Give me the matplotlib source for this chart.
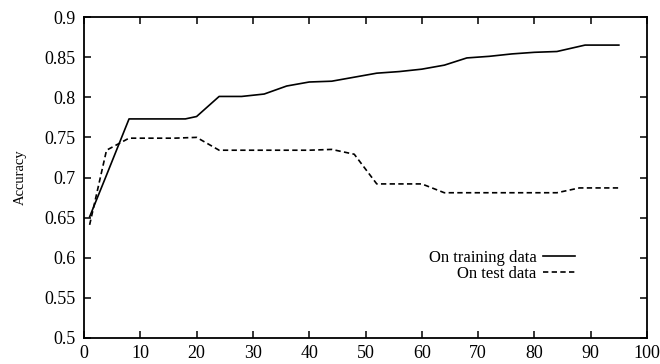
import numpy as np
import matplotlib.pyplot as plt

plt.rcParams['font.family'] = 'Liberation Serif'

# training curve
train_x = [1, 4, 8, 12, 16, 18, 20, 24, 28, 32, 36, 40, 44, 48, 52, 56, 60, 64, 68, 72, 76, 80, 84, 89, 95]
train_y = [0.651, 0.703, 0.773, 0.773, 0.773, 0.773, 0.776, 0.801, 0.801, 0.804, 0.814, 0.819, 0.820,
           0.825, 0.830, 0.832, 0.835, 0.840, 0.849, 0.851, 0.854, 0.856, 0.857, 0.865, 0.865]

# test curve
test_x = [1, 4, 8, 12, 16, 20, 24, 28, 32, 36, 40, 44, 48, 52, 56, 60, 64, 68, 72, 76, 80, 84, 88, 95]
test_y = [0.641, 0.734, 0.749, 0.749, 0.749, 0.750, 0.734, 0.734, 0.734, 0.734, 0.734, 0.735, 0.729,
          0.692, 0.692, 0.692, 0.681, 0.681, 0.681, 0.681, 0.681, 0.681, 0.687, 0.687]

xticks = np.arange(0, 101, 10)
yticks = [0.5, 0.55, 0.6, 0.65, 0.7, 0.75, 0.8, 0.85, 0.9]

fig = plt.figure(figsize=(6.6, 3.64), dpi=100)
ax = fig.add_axes([84/660, 26/364, 563/660, 321/364])

ax.plot(train_x, train_y, color='black', lw=1.2, label='On training data')
ax.plot(test_x, test_y, color='black', lw=1.2, dashes=(3.2, 2.0), label='On test data')

ax.set_xlim(0, 100)
ax.set_ylim(0.5, 0.9)
ax.set_xticks(xticks)
ax.set_yticks(yticks)
ax.set_yticklabels([('%g' % v) for v in yticks])
ax.tick_params(direction='in', length=5, width=1.1, top=True, right=True, labelsize=13)
ax.tick_params(axis='y', pad=6)
ax.tick_params(axis='x', pad=5)
for s in ax.spines.values():
    s.set_linewidth(1.3)

ax.set_ylabel('Accuracy', fontsize=10.5, labelpad=13)

ax.legend(loc='center right', bbox_to_anchor=(575/660, 1 - 265.5/364), bbox_transform=fig.transFigure,
          frameon=False, markerfirst=False, fontsize=12, handlelength=1.9, handletextpad=0.4,
          labelspacing=0.0, borderpad=0, borderaxespad=0)

fig.savefig('out.png', dpi=100)
